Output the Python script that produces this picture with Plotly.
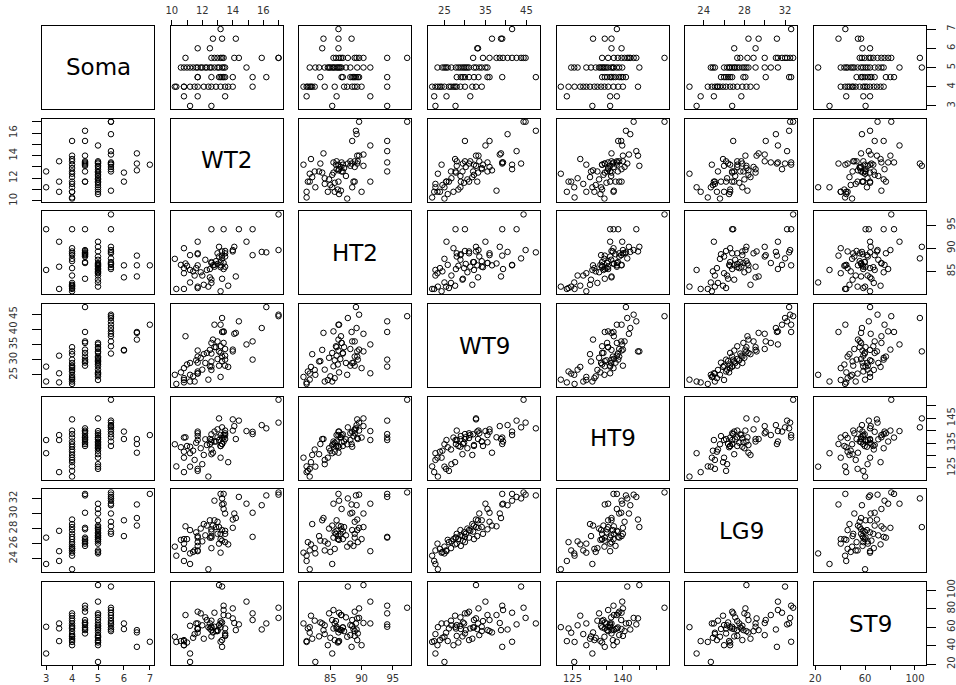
import plotly.graph_objects as go

names = ["Soma", "WT2", "HT2", "WT9", "HT9", "LG9", "ST9"]

Soma = [3, 3, 3.5, 3.5, 3.5,
        4, 4, 4, 4, 4, 4, 4, 4, 4, 4, 4, 4, 4, 4, 4, 4,
        4.5, 4.5, 4.5, 4.5, 4.5, 4.5, 4.5, 4.5, 4.5, 4.5, 4.5,
        5, 5, 5, 5, 5, 5, 5, 5, 5, 5, 5, 5, 5, 5, 5, 5, 5, 5, 5, 5,
        5.5, 5.5, 5.5, 5.5, 5.5, 5.5, 5.5, 5.5, 5.5, 5.5, 5.5, 5.5,
        6, 6, 6.5, 6.5, 6.5, 7]
WT2 = [12.6, 11.2, 13.5, 11.7, 10.8,
       12.9, 14.0, 12.1, 15.3, 11.2, 13.5, 13.7, 10.8, 12.6, 11.7, 10.2, 13.2, 10.8, 12.4, 11.5, 10.3,
       16.2, 13.4, 15.3, 12.6, 14.0, 13.2, 11.7, 13.5, 13.3, 11.7, 13.1,
       13.4, 14.9, 12.8, 13.5, 13.1, 12.3, 13.3, 11.9, 13.0, 11.6, 12.6, 12.2, 11.0, 12.5, 12.0, 10.6, 11.7, 11.2, 11.4, 10.8,
       17.0, 17.0, 13.3, 14.4, 12.8, 15.9, 13.4, 14.1, 10.9, 13.0, 13.2, 12.6,
       12.5, 11.7, 13.3, 14.2, 12.7, 13.2]
HT2 = [94.1, 85.3, 86.0, 91.4, 81.2,
       87.2, 89.3, 82.1, 94.1, 88.5, 88.9, 81.9, 90.0, 82.5, 81.4, 87.7, 80.7, 85.7, 81.7, 84.1, 81.2,
       89.1, 94.1, 88.5, 86.8, 89.6, 87.0, 88.9, 89.4, 83.4, 88.7, 88.2,
       86.8, 91.4, 86.0, 88.2, 90.3, 85.3, 89.3, 84.8, 86.6, 85.7, 83.2, 87.5, 86.2, 85.5, 84.1, 86.4, 81.7, 82.6, 85.0, 84.6,
       89.6, 97.3, 87.8, 94.1, 86.4, 89.2, 85.5, 90.3, 86.7, 88.9, 85.9, 87.0,
       83.7, 86.3, 88.4, 83.9, 86.3, 86.3]
WT9 = [27.7, 22.8, 31.3, 25.5, 22.5,
       34.1, 32.7, 31.8, 30.0, 28.9, 28.0, 27.6, 27.2, 26.6, 26.1, 25.0, 24.3, 23.9, 23.4, 22.8, 22.0,
       47.3, 39.1, 36.0, 35.5, 33.3, 32.2, 31.0, 30.0, 29.5, 29.0, 28.0,
       35.5, 35.0, 34.1, 33.5, 32.7, 32.2, 31.0, 30.6, 30.2, 29.8, 29.4, 28.9, 28.4, 27.8, 26.7, 25.8, 25.4, 25.0, 24.5, 23.3,
       44.8, 44.3, 43.7, 42.6, 41.5, 40.4, 39.3, 38.5, 37.7, 36.0, 34.4, 32.0,
       33.2, 33.0, 39.1, 38.8, 36.6, 41.5]
HT9 = [136.2, 130.9, 138.2, 136.2, 123.3,
       135.6, 144.5, 130.2, 138.6, 133.5, 140.0, 127.3, 137.2, 132.4, 123.8, 134.5, 129.1, 131.5, 121.5, 128.2, 125.6,
       140.9, 137.2, 139.5, 135.3, 140.0, 133.8, 138.9, 136.6, 134.6, 137.8, 136.2,
       138.2, 139.8, 135.6, 138.9, 144.9, 134.2, 137.0, 132.9, 137.3, 135.1, 130.5, 136.5, 133.8, 134.6, 126.5, 133.3, 124.6, 125.5, 131.9, 129.1,
       143.2, 152.4, 141.3, 144.0, 139.6, 142.2, 135.6, 141.8, 137.3, 140.5, 133.8, 138.5,
       136.6, 139.6, 134.6, 136.6, 131.1, 138.2]
LG9 = [26.8, 23.3, 27.7, 25.0, 23.7,
       28.2, 29.2, 28.6, 26.9, 27.8, 27.3, 25.9, 26.6, 25.4, 26.2, 25.6, 24.8, 25.3, 22.6, 25.1, 24.4,
       32.4, 32.6, 30.1, 27.9, 28.1, 26.6, 26.8, 26.2, 26.4, 25.7, 26.0,
       30.6, 31.3, 29.1, 30.0, 28.2, 28.4, 27.8, 28.0, 27.3, 27.5, 27.0, 27.1, 26.6, 26.8, 26.3, 26.5, 25.1, 24.7, 24.9, 26.0,
       32.5, 32.8, 32.0, 32.2, 31.7, 31.1, 31.3, 30.0, 28.3, 28.9, 27.3, 27.6,
       29.1, 27.0, 31.2, 29.4, 28.4, 32.6]
ST9 = [60.4, 31.5, 58.6, 64.0, 44.9,
       55.7, 69.5, 47.5, 74.9, 61.5, 50.5, 72.4, 40.5, 67.0, 58.6, 49.6, 64.0, 46.0, 60.0, 52.5, 44.0,
       64.0, 83.2, 67.7, 56.8, 80.3, 59.7, 76.7, 53.2, 65.1, 58.0, 62.2,
       73.1, 87.6, 60.4, 51.4, 105.5, 67.7, 46.0, 74.9, 56.8, 64.0, 50.0, 70.6, 43.4, 58.5, 62.0, 45.0, 54.0, 22.4, 48.5, 40.5,
       70.0, 81.0, 103.9, 63.0, 75.6, 57.5, 78.5, 64.5, 73.1, 55.7, 66.6, 59.7,
       64.0, 57.9, 38.7, 56.8, 54.3, 44.2]

# tick positions and the labels R printed on horizontal / vertical axes
tick_vals = {
    "Soma": [3, 4, 5, 6, 7],
    "WT2": [10, 11, 12, 13, 14, 15, 16, 17],
    "HT2": [85, 90, 95],
    "WT9": [25, 30, 35, 40, 45],
    "HT9": [125, 130, 135, 140, 145, 150],
    "LG9": [24, 26, 28, 30, 32],
    "ST9": [20, 40, 60, 80, 100],
}
x_labels = {"Soma": [3, 4, 5, 6, 7], "WT2": [10, 12, 14, 16], "HT2": [85, 90, 95],
            "WT9": [25, 35, 45], "HT9": [125, 140], "LG9": [24, 28, 32], "ST9": [20, 60, 100]}
y_labels = {"Soma": [3, 4, 5, 6, 7], "WT2": [10, 12, 14, 16], "HT2": [85, 90, 95],
            "WT9": [25, 30, 35, 40, 45], "HT9": [125, 135, 145], "LG9": [24, 26, 28, 30, 32],
            "ST9": [20, 40, 60, 80, 100]}

data = {"Soma": Soma, "WT2": WT2, "HT2": HT2, "WT9": WT9, "HT9": HT9, "LG9": LG9, "ST9": ST9}

# ---- geometry ----
W, H = 956, 685
L, R, T, B = 42, 30, 26, 20
PW, PH = W - L - R, H - T - B
CW, CH = 112, 83
n = len(names)
CP = (PW - CW) / (n - 1)
RP = (PH - CH) / (n - 1)


def rng(v):
    lo, hi = min(v), max(v)
    d = hi - lo
    return [lo - 0.04 * d, hi + 0.04 * d]


def ticktext(vals, shown):
    return [str(v) if v in shown else "" for v in vals]


tick_font = dict(family="DejaVu Sans", size=10, color="#333333")
fig = go.Figure()
layout = {}
annotations = []

for i in range(n):
    for j in range(n):
        k = i * n + j + 1
        sfx = "" if k == 1 else str(k)
        xv, yv = names[j], names[i]
        x0 = j * CP / PW
        x1 = (j * CP + CW) / PW
        y1 = 1 - i * RP / PH
        y0 = 1 - (i * RP + CH) / PH

        xa = dict(domain=[x0, x1], range=rng(data[xv]), anchor="y" + sfx,
                  showgrid=False, zeroline=False, showline=True, mirror=True,
                  linecolor="black", linewidth=1, ticks="", showticklabels=False,
                  fixedrange=True, automargin=False)
        ya = dict(domain=[y0, y1], range=rng(data[yv]), anchor="x" + sfx,
                  showgrid=False, zeroline=False, showline=True, mirror=True,
                  linecolor="black", linewidth=1, ticks="", showticklabels=False,
                  fixedrange=True, automargin=False)

        if (i == 0 and j % 2 == 1) or (i == n - 1 and j % 2 == 0):
            top = i == 0
            xa.update(side="top" if top else "bottom", ticks="outside",
                      ticklen=5 if top else 4,
                      tickcolor="black", tickwidth=1, showticklabels=True,
                      tickmode="array", tickvals=tick_vals[xv],
                      ticktext=ticktext(tick_vals[xv], x_labels[xv]),
                      tickfont=tick_font, tickangle=0,
                      ticklabelstandoff=2 if top else 0)
        if (j == 0 and i % 2 == 1) or (j == n - 1 and i % 2 == 0):
            ya.update(side="left" if j == 0 else "right", ticks="outside", ticklen=9,
                      tickcolor="black", tickwidth=1, showticklabels=True,
                      tickmode="array", tickvals=tick_vals[yv],
                      ticktext=ticktext(tick_vals[yv], y_labels[yv]),
                      tickfont=tick_font, tickangle=-90,
                      ticklabelstandoff=11 if j == 0 else 7)

        layout["xaxis" + sfx] = xa
        layout["yaxis" + sfx] = ya

        if i == j:
            # invisible trace so that the diagonal panel's axes (box, ticks) get drawn
            fig.add_trace(go.Scatter(
                x=data[xv], y=data[yv], mode="markers",
                xaxis="x" + sfx, yaxis="y" + sfx,
                marker=dict(opacity=0, size=1), showlegend=False, hoverinfo="skip"))
            annotations.append(dict(x=(x0 + x1) / 2, y=(y0 + y1) / 2, xref="paper", yref="paper",
                                    xanchor="center", yanchor="middle",
                                    text=names[i], showarrow=False,
                                    font=dict(family="DejaVu Sans", size=23, color="black")))
        else:
            fig.add_trace(go.Scatter(
                x=data[xv], y=data[yv], mode="markers",
                xaxis="x" + sfx, yaxis="y" + sfx,
                marker=dict(symbol="circle-open", size=5.5, color="black",
                            line=dict(width=1, color="black")),
                showlegend=False, hoverinfo="skip"))

fig.update_layout(**layout)
fig.update_layout(width=W, height=H, margin=dict(l=L, r=R, t=T, b=B),
                  paper_bgcolor="white", plot_bgcolor="white",
                  annotations=annotations, showlegend=False)

fig.write_html("out.html", config={"displayModeBar": False},
               post_script="document.body.style.margin='0';document.body.style.padding='0';")
